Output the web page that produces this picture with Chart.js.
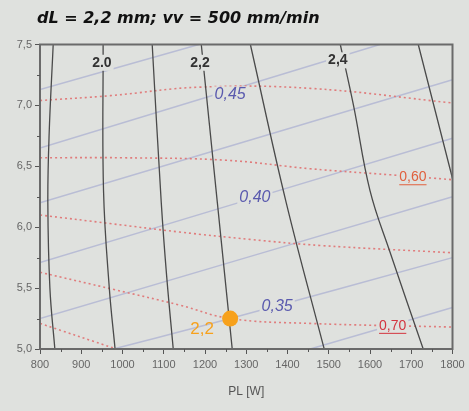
<!doctype html>
<html>
<head>
  <title>dL = 2,2 mm; vv = 500 mm/min</title>
  <script src="https://cdn.jsdelivr.net/npm/chart.js@4.4.0/dist/chart.umd.min.js"></script>
  <style>
    html, body { margin: 0; padding: 0; background: #dfe1de; }
    #wrap { width: 469px; height: 411px; }
  </style>
</head>
<body>
<div id="wrap"><canvas id="canvas"></canvas></div>
<script>
  // dL contours (black), x = PL [W], y = feed value
  var dL19 = [{x:832,y:7.5},{x:822,y:6.75},{x:819,y:6.2},{x:824,y:5.5},{x:836,y:5.0}];
  var dL20 = [{x:953,y:7.5},{x:954,y:6.3},{x:968,y:5.5},{x:982,y:5.0}];
  var dL21 = [{x:1072,y:7.5},{x:1094,y:6.2},{x:1107,y:5.6},{x:1123,y:5.0}];
  var dL22 = [{x:1191,y:7.5},{x:1230,y:6.2},{x:1266,y:5.0}];
  var dL23 = [{x:1310,y:7.5},{x:1397,y:6.2},{x:1489,y:5.0}];
  var dL24 = [{x:1528,y:7.5},{x:1560,y:7.0},{x:1600,y:6.3},{x:1648,y:5.8},{x:1729,y:5.0}];
  var dL25 = [{x:1717,y:7.5},{x:1800,y:6.4}];

  // blue contours
  var b475 = [{x:800,y:7.13},{x:1185,y:7.5}];
  var b450 = [{x:800,y:6.65},{x:1624,y:7.5}];
  var b425 = [{x:800,y:6.20},{x:1800,y:7.21}];
  var b400 = [{x:800,y:5.71},{x:1800,y:6.73}];
  var b375 = [{x:800,y:5.25},{x:1800,y:6.25}];
  var b350 = [{x:977,y:5.0},{x:1261,y:5.25},{x:1800,y:5.75}];
  var b325 = [{x:1455,y:5.0},{x:1800,y:5.34}];

  // red dotted contours
  var r055 = [{x:800,y:7.04},{x:970,y:7.08},{x:1188,y:7.15},{x:1455,y:7.14},{x:1800,y:7.02}];
  var r060 = [{x:800,y:6.57},{x:1000,y:6.57},{x:1250,y:6.55},{x:1455,y:6.48},{x:1650,y:6.43},{x:1800,y:6.39}];
  var r065 = [{x:800,y:6.10},{x:970,y:6.03},{x:1139,y:5.96},{x:1309,y:5.90},{x:1479,y:5.85},{x:1800,y:5.79}];
  var r070 = [{x:800,y:5.63},{x:977,y:5.49},{x:1139,y:5.36},{x:1261,y:5.25},{x:1455,y:5.21},{x:1800,y:5.18}];
  var r075 = [{x:800,y:5.21},{x:985,y:5.0}];

  var workPoint = [{x:1261,y:5.25}];

  var blackLabels = [{t:'2.0',x:950,y:7.35},{t:'2,2',x:1188,y:7.35},{t:'2,4',x:1522,y:7.37}];
  var blueLabels = [{t:'0,45',x:1261,y:7.09},{t:'0,40',x:1321,y:6.24},{t:'0,35',x:1375,y:5.35}];
  var redLabels = [{t:'0,60',x:1704,y:6.41},{t:'0,70',x:1655,y:5.19}];
  var pointLabel = {t:'2,2',x:1193,y:5.16};

  var BG = '#dfe1de';
  var TITLE_FONT = 'italic bold 16px "DejaVu Sans", sans-serif';
  var TICK_FAMILY = '"Liberation Sans Narrow", "Liberation Sans", sans-serif';

  function black(d) { return {data:d, borderColor:'#4a4a4a', borderWidth:1.3, order:2}; }
  function blue(d) { return {data:d, borderColor:'#b9bdd5', borderWidth:1.5, order:4}; }
  function red(d) { return {data:d, borderColor:'#e07c7c', borderWidth:1.6, borderDash:[2,3], order:3}; }

  var datasets = [
    black(dL19), black(dL20), black(dL21), black(dL22), black(dL23), black(dL24), black(dL25),
    blue(b475), blue(b450), blue(b425), blue(b400), blue(b375), blue(b350), blue(b325),
    red(r055), red(r060), red(r065), red(r070), red(r075),
    {data:workPoint, showLine:false, pointRadius:8, pointBackgroundColor:'#f7a11c', pointBorderWidth:0, order:0}
  ];

  function txt(ctx, s, x, y, font, color, bg, underline) {
    ctx.font = font;
    var w = ctx.measureText(s).width;
    if (bg) {
      ctx.fillStyle = BG;
      ctx.fillRect(x - w/2 - 2, y - 8, w + 4, 16);
    }
    ctx.fillStyle = color;
    ctx.textAlign = 'center';
    ctx.textBaseline = 'middle';
    ctx.fillText(s, x, y);
    if (underline) {
      ctx.strokeStyle = color;
      ctx.lineWidth = 1;
      ctx.beginPath();
      ctx.moveTo(x - w/2, y + 7.5);
      ctx.lineTo(x + w/2, y + 7.5);
      ctx.stroke();
    }
  }

  var decor = {
    id: 'decor',
    afterDatasetsDraw: function(chart) {
      var ctx = chart.ctx, xs = chart.scales.x, ys = chart.scales.y, a = chart.chartArea;
      ctx.save();
      blackLabels.forEach(function(l) {
        txt(ctx, l.t, xs.getPixelForValue(l.x), ys.getPixelForValue(l.y), 'bold 14px "Liberation Sans"', '#333', true);
      });
      blueLabels.forEach(function(l) {
        txt(ctx, l.t, xs.getPixelForValue(l.x), ys.getPixelForValue(l.y), 'italic 16px "Liberation Sans"', '#5a5aae', true);
      });
      txt(ctx, redLabels[0].t, xs.getPixelForValue(redLabels[0].x), ys.getPixelForValue(redLabels[0].y), '14px "Liberation Sans"', '#e0603e', true, true);
      txt(ctx, redLabels[1].t, xs.getPixelForValue(redLabels[1].x), ys.getPixelForValue(redLabels[1].y), '14px "Liberation Sans"', '#d3343f', true, true);
      txt(ctx, pointLabel.t, xs.getPixelForValue(pointLabel.x), ys.getPixelForValue(pointLabel.y), '17px "Liberation Sans"', '#f7a11c', false);

      // frame
      ctx.strokeStyle = '#6a6a6a';
      ctx.lineWidth = 2;
      ctx.strokeRect(a.left, a.top, a.right - a.left, a.bottom - a.top);

      // minor ticks
      ctx.strokeStyle = '#555';
      ctx.lineWidth = 1;
      ctx.beginPath();
      for (var v = 850; v < 1800; v += 100) {
        var px = Math.round(xs.getPixelForValue(v)) + 0.5;
        ctx.moveTo(px, a.bottom); ctx.lineTo(px, a.bottom + 3);
      }
      for (var w = 5.25; w < 7.5; w += 0.5) {
        var py = Math.round(ys.getPixelForValue(w)) + 0.5;
        ctx.moveTo(a.left, py); ctx.lineTo(a.left - 3, py);
      }
      ctx.stroke();

      // title
      ctx.fillStyle = '#111';
      ctx.font = TITLE_FONT;
      ctx.textAlign = 'left';
      ctx.textBaseline = 'middle';
      ctx.fillText('dL = 2,2 mm; vv = 500 mm/min', 37, 19);
      ctx.restore();
    }
  };

  function draw() {
    new Chart(document.getElementById('canvas'), {
      type: 'line',
      data: { datasets: datasets },
      options: {
        responsive: true,
        maintainAspectRatio: false,
        animation: false,
        layout: { padding: { top: 44.5, right: 16.5, left: 0, bottom: 0 } },
        elements: {
          point: { radius: 0 },
          line: { tension: 0.4, fill: false }
        },
        plugins: { legend: { display: false }, tooltip: { enabled: false } },
        scales: {
          x: {
            type: 'linear', min: 800, max: 1800,
            afterFit: function(s) { s.height = 62; },
            grid: { drawOnChartArea: false, tickLength: 5, color: '#555' },
            border: { color: '#444', width: 1.5 },
            ticks: {
              stepSize: 100, padding: 4, color: '#666', maxRotation: 0,
              font: { family: TICK_FAMILY, size: 11 },
              callback: function(v) { return String(v); }
            },
            title: {
              display: true, text: 'PL [W]', color: '#555',
              font: { family: '"Liberation Sans", sans-serif', size: 12 },
              padding: { top: 0, bottom: 12 }
            }
          },
          y: {
            type: 'linear', min: 5, max: 7.5,
            afterFit: function(s) { s.width = 40; },
            grid: { drawOnChartArea: false, tickLength: 5, color: '#555' },
            border: { color: '#444', width: 1.5 },
            ticks: {
              stepSize: 0.5, padding: 3, color: '#666',
              font: { family: TICK_FAMILY, size: 11 },
              callback: function(v) { return v.toFixed(1).replace('.', ','); }
            }
          }
        }
      },
      plugins: [decor]
    });
  }

  var fontLoads = [
    document.fonts.load(TITLE_FONT, 'dL'),
    document.fonts.load('11px ' + TICK_FAMILY, '0'),
    document.fonts.load('bold 14px "Liberation Sans"', '2'),
    document.fonts.load('italic 16px "Liberation Sans"', '0'),
    document.fonts.load('14px "Liberation Sans"', '0')
  ];
  Promise.all(fontLoads).then(draw, draw);
</script>
</body>
</html>
